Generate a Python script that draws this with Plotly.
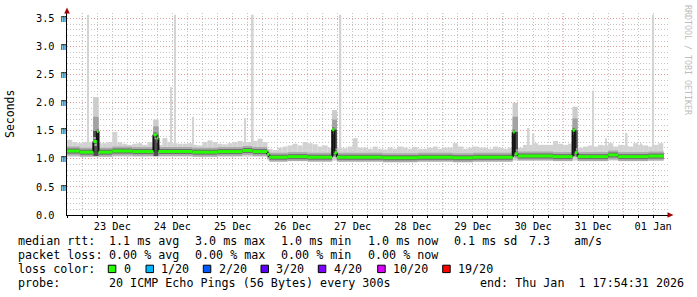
import plotly.graph_objects as go
import pandas as pd

# ---------------- data ----------------
RANGE_START = "2025-12-22 17:54:31"
RANGE_END = "2026-01-01 17:54:31"

day_ticks = ["2025-12-23 12:00", "2025-12-24 12:00", "2025-12-25 12:00", "2025-12-26 12:00",
             "2025-12-27 12:00", "2025-12-28 12:00", "2025-12-29 12:00", "2025-12-30 12:00",
             "2025-12-31 12:00", "2026-01-01 12:00"]
day_labels = ["23 Dec", "24 Dec", "25 Dec", "26 Dec", "27 Dec", "28 Dec", "29 Dec", "30 Dec",
              "31 Dec", "01 Jan"]
y_ticks = [0.0, 0.5, 1.0, 1.5, 2.0, 2.5, 3.0, 3.5]
y_labels = ["0.0\u00a0\u00a0", "0.5 m", "1.0 m", "1.5 m", "2.0 m", "2.5 m", "3.0 m", "3.5 m"]

# smoke envelope, 2-hour bins starting at bin_start (ms)
bin_start = "2025-12-22 16:00"
smoke_hi = [
    1.34, 1.34, 1.30, 1.28, 1.30, 1.30, 1.28, 1.28, 1.28, 1.30, 1.48, 1.30,
    1.27, 1.25, 1.27, 1.28, 1.25, 1.30, 1.28, 1.25, 1.37, 1.30, 1.28, 1.27,
    1.27, 1.28, 1.25, 1.24, 1.30, 1.33, 1.30, 1.27, 1.26, 1.28, 1.30, 1.32,
    1.30, 1.30, 1.32, 1.36, 1.30, 1.18, 1.16, 1.20, 1.22, 1.24, 1.27, 1.24,
    1.30, 1.28, 1.26, 1.22, 1.24, 1.20, 1.18, 1.20, 1.19, 1.22, 1.37, 1.20,
    1.20, 1.18, 1.22, 1.18, 1.17, 1.20, 1.18, 1.22, 1.20, 1.18, 1.21, 1.18,
    1.18, 1.20, 1.22, 1.18, 1.20, 1.20, 1.28, 1.22, 1.18, 1.20, 1.22, 1.20,
    1.20, 1.18, 1.22, 1.20, 1.18, 1.20, 1.22, 1.20, 1.25, 1.25, 1.28, 1.25,
    1.25, 1.25, 1.32, 1.27, 1.25, 1.27, 1.25, 1.20, 1.22, 1.24, 1.22, 1.25,
    1.24, 1.28, 1.22, 1.25, 1.24, 1.22, 1.28, 1.25, 1.24, 1.22, 1.25, 1.28,
]
smoke_lo = [
    1.04, 1.04, 1.04, 1.04, 1.04, 1.04, 1.04, 1.04, 1.04, 1.04, 1.04, 1.04,
    1.04, 1.04, 1.04, 1.04, 1.04, 1.04, 1.04, 1.04, 1.04, 1.04, 1.04, 1.04,
    1.04, 1.04, 1.04, 1.04, 1.04, 1.04, 1.04, 1.04, 1.04, 1.04, 1.04, 1.04,
    1.04, 1.04, 1.04, 1.04, 1.04, 0.97, 0.97, 0.97, 0.97, 0.97, 0.97, 0.97,
    0.97, 0.97, 0.97, 0.97, 0.97, 0.97, 0.97, 0.97, 0.97, 0.97, 0.97, 0.97,
    0.97, 0.97, 0.97, 0.97, 0.97, 0.97, 0.97, 0.97, 0.97, 0.97, 0.97, 0.97,
    0.97, 0.97, 0.97, 0.97, 0.97, 0.97, 0.97, 0.97, 0.97, 0.97, 0.97, 0.97,
    0.97, 0.97, 0.97, 0.97, 0.97, 0.97, 0.97, 0.97, 0.97, 0.97, 0.97, 0.97,
    0.97, 0.97, 0.97, 0.97, 0.97, 0.97, 0.97, 0.97, 0.97, 0.97, 0.97, 0.97,
    0.97, 0.97, 0.97, 0.97, 0.97, 0.97, 0.97, 0.97, 0.97, 0.97, 0.97, 0.97,
]

# median rtt (ms), step changes
med_t = ["2025-12-22 16:00", "2025-12-22 23:00", "2025-12-23 04:25", "2025-12-23 05:50",
         "2025-12-23 06:30", "2025-12-23 12:00", "2025-12-23 20:00", "2025-12-24 04:25",
         "2025-12-24 05:45", "2025-12-24 06:25", "2025-12-24 20:00", "2025-12-25 06:00",
         "2025-12-25 16:00", "2025-12-25 20:00", "2025-12-26 01:50", "2025-12-26 02:40",
         "2025-12-26 10:00", "2025-12-26 18:00", "2025-12-27 03:48", "2025-12-27 04:42",
         "2025-12-27 05:40", "2025-12-28 00:00", "2025-12-28 14:00", "2025-12-29 04:00",
         "2025-12-29 12:00", "2025-12-30 03:54", "2025-12-30 04:42", "2025-12-30 05:54",
         "2025-12-30 20:00", "2025-12-31 03:48", "2025-12-31 04:42", "2025-12-31 05:48",
         "2025-12-31 18:00", "2025-12-31 22:00", "2026-01-01 10:00"]
med_v = [1.14, 1.12, 1.31, 1.49,
         1.12, 1.14, 1.13, 1.43,
         1.37, 1.13, 1.12, 1.13,
         1.15, 1.13, 1.08, 1.03,
         1.04, 1.03, 1.52, 1.11,
         1.03, 1.02, 1.03, 1.02,
         1.03, 1.48, 1.09, 1.05,
         1.04, 1.51, 1.11, 1.04,
         1.07, 1.04, 1.05]
med_end = "2026-01-01 16:15"

# isolated single-ping peaks (ms)
peak_t = ["2025-12-23 02:18", "2025-12-24 11:30", "2025-12-24 13:06", "2025-12-24 20:18",
          "2025-12-25 17:06", "2025-12-25 20:06", "2025-12-27 07:06", "2025-12-30 10:18",
          "2025-12-30 12:12", "2025-12-31 11:54", "2025-12-31 17:06", "2026-01-01 01:24",
          "2026-01-01 07:06", "2026-01-01 12:00"]
peak_v = [3.57, 2.28, 3.57, 1.75, 1.73, 3.57, 3.57, 1.55, 1.45, 2.22, 1.37, 1.46, 1.28, 3.57]

# latency episodes: smoke column (ms)
sp_start = ["2025-12-23 04:20", "2025-12-24 04:20", "2025-12-27 03:45", "2025-12-30 03:50", "2025-12-31 03:45"]
sp_end = ["2025-12-23 06:35", "2025-12-24 06:30", "2025-12-27 05:45", "2025-12-30 06:00", "2025-12-31 05:50"]
sp_top = [2.10, 1.70, 1.87, 2.00, 1.93]
sp_mid = [1.75, 1.58, 1.70, 1.75, 1.72]
sp_dark = [1.50, 1.45, 1.52, 1.48, 1.51]

legend_rows = [
    [("median rtt:", 16), ("1.1 ms avg", 107.3), ("3.0 ms max", 193.3), ("1.0 ms min", 279.3),
     ("1.0 ms now", 365.7), ("0.1 ms sd", 451.7), ("7.3", 526.7), ("am/s", 571.7)],
    [("packet loss:", 16), ("0.00 % avg", 107.3), ("0.00 % max", 193.3), ("0.00 % min", 279.3),
     ("0.00 % now", 365.7)],
    [("loss color:", 16)],
    [("probe:", 16), ("20 ICMP Echo Pings (56 Bytes) every 300s", 107.3),
     ("end: Thu Jan  1 17:54:31 2026", 478.3)],
]
loss_labels = ["0", "1/20", "2/20", "3/20", "4/20", "10/20", "19/20"]
loss_colors = ["#26ff00", "#00b8ff", "#0059ff", "#5e00ff", "#7e00ff", "#dd00ff", "#ff0000"]

# ---------------- geometry helpers ----------------
PX_L, PX_R, PY_T, PY_B = 67, 668, 13, 215
W, H = 697, 297


def fx(px):
    return (px - PX_L) / (PX_R - PX_L)


def fy(py):
    return (PY_B - py) / (PY_B - PY_T)


MONO = "DejaVu Sans Mono"
fig = go.Figure()

# smoke bins
bins = pd.date_range(bin_start, periods=len(smoke_hi), freq="2h")
bw = pd.Timedelta(hours=2)
fig.add_trace(go.Bar(
    x=bins + bw / 2, base=smoke_lo, y=[h - l for h, l in zip(smoke_hi, smoke_lo)],
    width=bw.total_seconds() * 1000, marker=dict(color="#d2d2d2", line=dict(width=0)),
    hoverinfo="skip"))

# isolated peaks
PEAK_BASE = 1.1
fig.add_trace(go.Bar(
    x=pd.to_datetime(peak_t), base=PEAK_BASE, y=[v - PEAK_BASE for v in peak_v],
    width=40 * 60 * 1000, marker=dict(color="#d4d4d4", line=dict(width=0)), hoverinfo="skip"))

# latency episode columns
s0 = pd.to_datetime(sp_start)
s1 = pd.to_datetime(sp_end)
ctr = s0 + (s1 - s0) / 2
wid = [(b - a).total_seconds() * 1000 for a, b in zip(s0, s1)]
SP_BASE = 1.05
for vals, col in ((sp_top, "#cccccc"), (sp_mid, "#a2a2a2"), (sp_dark, "#505050")):
    fig.add_trace(go.Bar(x=ctr, base=SP_BASE, y=[v - SP_BASE for v in vals], width=wid,
                         marker=dict(color=col, line=dict(width=0)), hoverinfo="skip"))

# median segments
mt = list(pd.to_datetime(med_t)) + [pd.Timestamp(med_end)]
hx, hy = [], []
for i, v in enumerate(med_v):
    hx += [mt[i], mt[i + 1], None]
    hy += [v, v, None]
vx, vy = [], []
for i in range(1, len(med_v)):
    vx += [mt[i], mt[i], None]
    vy += [med_v[i - 1], med_v[i], None]

fig.add_trace(go.Scatter(x=hx, y=hy, mode="lines", line=dict(color="#ababab", width=9),
                         hoverinfo="skip"))
fig.add_trace(go.Scatter(x=hx, y=hy, mode="lines", line=dict(color="#6e6e6e", width=5),
                         hoverinfo="skip"))
fig.add_trace(go.Scatter(x=vx, y=vy, mode="lines", line=dict(color="#111111", width=2),
                         hoverinfo="skip"))
fig.add_trace(go.Scatter(x=hx, y=hy, mode="lines", line=dict(color=loss_colors[0], width=3),
                         hoverinfo="skip"))

# ---------------- layout ----------------
RED = "#e09a9a"
GREY = "#c4c4c4"
DOT = "1px,2px"
shapes = []
for d in pd.date_range("2025-12-23", "2026-01-01", freq="D"):
    shapes.append(dict(type="line", xref="x", yref="paper", x0=d, x1=d, y0=0, y1=1,
                       line=dict(color=RED, width=1, dash=DOT), layer="below"))
# axis arrows
ar = "#a00000"
shapes.append(dict(type="path", xref="paper", yref="paper", fillcolor=ar, line=dict(width=0),
                   path=f"M {fx(67)},{fy(7.5)} L {fx(64.2)},{fy(13.5)} L {fx(69.8)},{fy(13.5)} Z"))
shapes.append(dict(type="path", xref="paper", yref="paper", fillcolor=ar, line=dict(width=0),
                   path=f"M {fx(673.5)},{fy(215)} L {fx(667.5)},{fy(212.2)} L {fx(667.5)},{fy(217.8)} Z"))

annotations = []
row_y = [240.7, 255, 268.7, 282.7]
for r, row in enumerate(legend_rows):
    for text, px in row:
        annotations.append(dict(xref="paper", yref="paper", x=fx(px), y=fy(row_y[r]),
                                xanchor="left", yanchor="middle", showarrow=False, text=text,
                                font=dict(family=MONO, size=11.7, color="#000")))
box_left = [108.3, 146.0, 203.3, 261.0, 318.3, 377.7, 442.7]
for lbl, col, bx in zip(loss_labels, loss_colors, box_left):
    shapes.append(dict(type="rect", xref="paper", yref="paper", x0=fx(bx), x1=fx(bx + 7.5),
                       y0=fy(265.2), y1=fy(272.6), fillcolor=col,
                       line=dict(color="#000", width=1)))
    annotations.append(dict(xref="paper", yref="paper", x=fx(bx + 13.4), y=fy(row_y[2]),
                            xanchor="left", yanchor="middle", showarrow=False, text=lbl,
                            font=dict(family=MONO, size=11.7, color="#000")))

annotations.append(dict(xref="paper", yref="paper", x=fx(10), y=fy(114), textangle=-90,
                        showarrow=False, text="Seconds", xanchor="center", yanchor="middle",
                        font=dict(family=MONO, size=11.5, color="#000")))
annotations.append(dict(xref="paper", yref="paper", x=fx(688), y=fy(60), textangle=90,
                        showarrow=False, text="RRDTOOL / TOBI OETIKER", xanchor="center",
                        yanchor="middle", font=dict(family=MONO, size=8.3, color="#bdbdbd")))

fig.update_layout(
    width=W, height=H, margin=dict(l=PX_L, r=W - PX_R, t=PY_T, b=H - PY_B),
    paper_bgcolor="#ffffff", plot_bgcolor="#ffffff", showlegend=False, barmode="overlay",
    shapes=shapes, annotations=annotations,
    xaxis=dict(type="date", range=[RANGE_START, RANGE_END], tickmode="array",
               tickvals=day_ticks, ticktext=day_labels, showgrid=False, zeroline=False,
               showline=True, linecolor="#000", linewidth=1, ticks="outside", ticklen=2,
               tickcolor="#000", tickfont=dict(family=MONO, size=10.3, color="#000"),
               minor=dict(tickmode="linear", tick0="2025-12-23 00:00", dtick=6 * 3600 * 1000,
                          showgrid=True, gridcolor=GREY, griddash=DOT, gridwidth=1,
                          ticks="outside", ticklen=2, tickcolor="#000")),
    yaxis=dict(range=[0, 3.6], tickmode="array", tickvals=y_ticks, ticktext=y_labels,
               showgrid=True, gridcolor=RED, griddash=DOT, gridwidth=1, zeroline=False,
               showline=True, linecolor="#000", linewidth=1, ticks="", ticklabelstandoff=-3,
               tickfont=dict(family=MONO, size=10.3, color="#000"),
               minor=dict(tickmode="linear", tick0=0, dtick=0.1, showgrid=True,
                          gridcolor=GREY, griddash=DOT, gridwidth=1)),
)

fig.write_html("out.html")
